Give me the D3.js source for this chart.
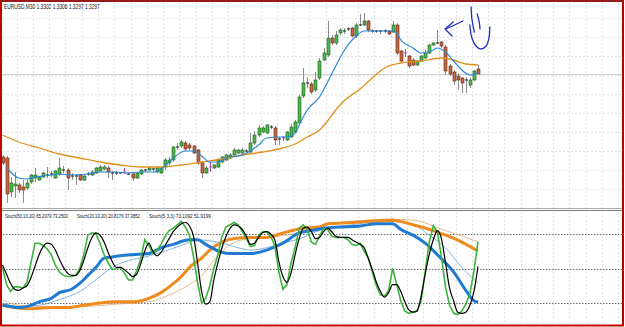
<!DOCTYPE html>
<html><head><meta charset="utf-8">
<script src="https://cdn.jsdelivr.net/npm/d3@7/dist/d3.min.js"></script>
<style>body{margin:0;background:#fff}svg{display:block}</style>
</head><body><svg id="c" width="625" height="327"></svg>
<script>
// ---------- DATA ----------
const openP=[1.3214,1.3213,1.3179,1.3185,1.3186,1.3184,1.3183,1.3189,1.3193,1.3191,
1.3194,1.3196,1.3197,1.3193,1.3197,1.3201,1.3201,1.3195,1.3195,1.3196,
1.3191,1.3197,1.3196,1.3198,1.3200,1.3202,1.3203,1.3198,1.3198,1.3198,
1.3199,1.3197,1.3197,1.3193,1.3197,1.3201,1.3201,1.3202,1.3199,1.3198,
1.3204,1.3208,1.3211,1.3224,1.3225,1.3228,1.3226,1.3225,1.3221,1.3208,
1.3198,1.3204,1.3203,1.3204,1.3209,1.3211,1.3213,1.3216,1.3218,1.3218,
1.3220,1.3219,1.3228,1.3236,1.3239,1.3238,1.3244,1.3243,1.3232,1.3233,
1.3231,1.3234,1.3239,1.3248,1.3275,1.3288,1.3287,1.3281,1.3293,1.3311,
1.3316,1.3333,1.3328,1.3338,1.3340,1.3342,1.3343,1.3335,1.3346,1.3346,
1.3350,1.3340,1.3340,1.3340,1.3340,1.3340,1.3339,1.3346,1.3320,1.3318,
1.3315,1.3311,1.3306,1.3310,1.3313,1.3318,1.3326,1.3328,1.3329,1.3324,
1.3305,1.3299,1.3295,1.3293,1.3291,1.3286,1.3291,1.3302];
const highP=[1.3216,1.3215,1.3194,1.3199,1.3188,1.3191,1.3191,1.3197,1.3203,1.3195,
1.3199,1.3204,1.3200,1.3201,1.3213,1.3205,1.3203,1.3198,1.3197,1.3197,
1.3196,1.3199,1.3201,1.3204,1.3206,1.3206,1.3205,1.3200,1.3200,1.3199,
1.3203,1.3199,1.3198,1.3199,1.3202,1.3202,1.3204,1.3203,1.3204,1.3204,
1.3213,1.3214,1.3225,1.3228,1.3231,1.3230,1.3228,1.3226,1.3222,1.3209,
1.3205,1.3209,1.3207,1.3213,1.3215,1.3217,1.3218,1.3223,1.3222,1.3223,
1.3222,1.3238,1.3240,1.3246,1.3245,1.3247,1.3246,1.3245,1.3234,1.3235,
1.3240,1.3247,1.3251,1.3276,1.3303,1.3294,1.3289,1.3299,1.3313,1.3323,
1.3350,1.3336,1.3340,1.3343,1.3343,1.3344,1.3344,1.3348,1.3357,1.3358,
1.3351,1.3342,1.3341,1.3341,1.3342,1.3341,1.3350,1.3348,1.3321,1.3322,
1.3316,1.3313,1.3311,1.3316,1.3321,1.3327,1.3329,1.3341,1.3330,1.3326,
1.3307,1.3301,1.3298,1.3294,1.3294,1.3293,1.3301,1.3306];
const lowP=[1.3206,1.3168,1.3174,1.3173,1.3178,1.3168,1.3181,1.3187,1.3189,1.3190,
1.3193,1.3193,1.3194,1.3192,1.3195,1.3198,1.3181,1.3191,1.3186,1.3190,
1.3190,1.3195,1.3195,1.3197,1.3199,1.3201,1.3193,1.3191,1.3196,1.3197,
1.3197,1.3196,1.3190,1.3192,1.3196,1.3199,1.3200,1.3200,1.3198,1.3197,
1.3201,1.3204,1.3209,1.3221,1.3223,1.3220,1.3221,1.3217,1.3206,1.3193,
1.3197,1.3199,1.3202,1.3203,1.3208,1.3210,1.3212,1.3214,1.3217,1.3216,
1.3218,1.3218,1.3226,1.3234,1.3238,1.3237,1.3242,1.3226,1.3226,1.3230,
1.3230,1.3233,1.3238,1.3246,1.3273,1.3283,1.3277,1.3279,1.3291,1.3310,
1.3314,1.3326,1.3326,1.3336,1.3337,1.3340,1.3334,1.3333,1.3345,1.3345,
1.3339,1.3338,1.3338,1.3337,1.3338,1.3336,1.3338,1.3316,1.3308,1.3314,
1.3303,1.3305,1.3305,1.3309,1.3312,1.3317,1.3325,1.3327,1.3323,1.3296,
1.3295,1.3286,1.3281,1.3278,1.3278,1.3283,1.3290,1.3297];
const closeP=[1.3208,1.3177,1.3188,1.3187,1.3181,1.3181,1.3188,1.3196,1.3196,1.3194,
1.3198,1.3196,1.3197,1.3200,1.3203,1.3201,1.3193,1.3195,1.3195,1.3191,
1.3195,1.3197,1.3199,1.3203,1.3204,1.3204,1.3199,1.3198,1.3198,1.3198,
1.3199,1.3197,1.3193,1.3198,1.3201,1.3201,1.3203,1.3202,1.3203,1.3203,
1.3211,1.3211,1.3224,1.3224,1.3229,1.3222,1.3223,1.3218,1.3208,1.3198,
1.3203,1.3204,1.3206,1.3211,1.3214,1.3216,1.3216,1.3221,1.3221,1.3221,
1.3220,1.3228,1.3236,1.3243,1.3243,1.3246,1.3244,1.3231,1.3232,1.3233,
1.3239,1.3244,1.3249,1.3274,1.3288,1.3288,1.3279,1.3291,1.3310,1.3318,
1.3333,1.3328,1.3336,1.3341,1.3340,1.3342,1.3335,1.3346,1.3346,1.3350,
1.3341,1.3340,1.3340,1.3340,1.3340,1.3337,1.3346,1.3318,1.3310,1.3318,
1.3305,1.3306,1.3310,1.3315,1.3318,1.3326,1.3328,1.3328,1.3325,1.3300,
1.3297,1.3290,1.3291,1.3288,1.3291,1.3291,1.3300,1.3297];
const magentaBars=[30,51,69,99];
const bidPrice=1.3297;

// moving averages: [bar index, price]
const maFast=[[1,1.3204],[2,1.3199],[4,1.3193],[6,1.3192],[8,1.3194],[10,1.3195],[12,1.3196],[14,1.3197],[17,1.3196],[21,1.3197],[24,1.3199],[28,1.3199],[31,1.3198],[34,1.3199],[37,1.3199],[39,1.3202],[42,1.3213],[45,1.3220],[47,1.3220],[49,1.3215],[51,1.3209],[53,1.3209],[55,1.3213],[59,1.3216],[63,1.3226],[65,1.3233],[68,1.3234],[70,1.3234],[72,1.3238],[73,1.3246],[75,1.3261],[78,1.3274],[80,1.3289],[82,1.3305],[84,1.3320],[87,1.3335],[89,1.3340],[92,1.3340],[96,1.3340],[97,1.3338],[98,1.3331],[101,1.3323],[103,1.3318],[106,1.3321],[107,1.3323],[109,1.3319],[111,1.3310],[113,1.3301],[115,1.3296],[117,1.3299]];
const maSlow=[[0,1.3236],[4,1.3229],[9,1.3223],[14,1.3217],[19,1.3213],[24,1.3209],[29,1.3206],[34,1.3204],[39,1.3204],[44,1.3206],[49,1.3209],[54,1.3212],[59,1.3216],[64,1.3219],[69,1.3223],[72,1.3227],[75,1.3234],[78,1.3241],[80,1.3250],[82,1.3261],[84,1.3270],[88,1.3282],[91,1.3293],[94,1.3303],[98,1.3308],[103,1.3310],[108,1.3313],[111,1.3311],[114,1.3307],[117,1.3306]];

// Stoch(5,3,3) main (green) and signal (black), one value per bar
const stochFastMain=[51,36,30,34,34,33,38,55,72,72,70,67,62,53,47,44,43,43,44,50,
62,79,81,80,72,62,55,49,50,51,46,40,40,48,58,75,70,63,66,71,
78,83,85,88,91,86,79,60,38,20,24,35,50,62,78,86,88,90,88,82,
76,69,70,79,82,82,78,70,47,32,36,55,68,85,88,84,73,71,78,85,
84,78,77,77,77,75,71,70,72,65,59,47,35,27,26,31,50,36,22,13,
11,12,13,22,47,73,87,82,60,34,18,11,10,13,19,28,48,73.1];
const stochFastSignal=[53,45,37,32,31,33,35,42,52,62,69,72,71,66,58,51,46,44,44,48,
57,68,77,81,79,73,64,56,51,51,49,46,43,45,54,65,72,65,61,64,
70,76,82,86,89,90,87,78,55,30,19,21,40,55,68,78,85,88,87,84,
78,71,72,77,81,82,80,75,56,43,38,46,62,76,85,86,82,76,77,82,
85,82,78,77,77,77,75,73,71,68,59,49,38,30,25,29,36,36,30,21,
14,12,13,26,45,62,75,83,76,55,33,22,12,11,12,18,30,51.9];
// Stoch(20,10,20) main (blue thick) and signal (blue thin): [bar, value]
const stochMidMain=[[0,18],[2,17],[4,16],[7,18],[9,21],[12,24],[14,29],[17,32],[19,37],[21,44],[23,51],[25,59],[27,60],[29,61],[32,62],[36,63],[39,68],[42,71],[46,75],[48,75],[50,71],[51,69],[54,64],[56,63],[61,63],[65,66],[69,72],[73,81],[76,83],[79,85],[83,86],[88,87],[92,89],[96,89],[98,84],[101,79],[104,72],[107,62],[111,47],[114,31],[116,22],[117,20.8]];
const stochMidSignal=[[0,20],[4,17],[9,18],[14,23],[19,30],[24,43],[27,51],[31,57],[35,60],[39,64],[44,70],[48,75],[51,74],[53,73],[57,69],[61,66],[65,68],[69,72],[74,77],[78,83],[82,86],[86,88],[90,90],[95,91],[101,88],[105,79],[109,68],[113,51],[117,37.4]];
// Stoch(50,10,20) main (orange thick) and signal (orange thin)
const stochSlowMain=[[0,18],[3,16],[6,15],[12,16],[16,16],[20,18],[24,20],[28,21],[32,21],[36,24],[39,29],[41,34],[44,43],[46,51],[49,59],[51,66],[54,73],[57,76],[61,77],[65,77],[69,81],[74,85],[78,86],[80,89],[86,90],[90,91],[96,92],[101,88],[106,83],[109,79],[113,73],[117,65.2]];
const stochSlowSignal=[[0,23],[4,18],[12,17],[20,17],[28,19],[36,21],[41,27],[46,36],[49,44],[52,57],[55,68],[59,75],[65,77],[70,79],[75,83],[79,88],[83,90],[90,92],[95,93],[101,92],[109,83],[117,73.3]];
const stochLevels=[20,50,80];

const priceHeader="EURUSD,M30  1.3302 1.3306 1.3297 1.3297";
const stochLabels=["Stoch(50,10,20) 65.2079 73.2503","Stoch(20,10,20) 20.8176 37.3852","Stoch(5,3,3) 73.1092 51.9199"];

// hand-drawn annotation strokes: [bar, price]
const annotArrowShaft=[[113.3,1.3350],[109.1,1.3342]];
const annotArrowHead=[[110.9,1.3349],[108.9,1.3342],[110.6,1.3335]];
const annotStroke1=[[115.3,1.3364],[115.5,1.3352],[116.1,1.3339]];
const annotStroke2=[[116.8,1.3357],[117.3,1.3349],[117.5,1.3342]];
const annotU=[[115.0,1.3346],[115.5,1.3333],[116.5,1.3325],[117.7,1.3322],[119.0,1.3325],[119.7,1.3333],[119.9,1.3344]];

// ---------- DRAW ----------
const svg=d3.select("#c");
const W=625,H=327;
const x=d3.scaleLinear().domain([0,117]).range([2.5,478]);
const y=d3.scaleLinear().domain([1.3163,1.3369]).range([208,2]);
const ys=d3.scaleLinear().domain([0,100]).range([326,211]);

svg.append("rect").attr("width",W).attr("height",H).attr("fill","#fff");
const defs=svg.append("defs");
defs.append("clipPath").attr("id","ct").append("rect").attr("x",2).attr("y",2).attr("width",620).attr("height",206);
defs.append("clipPath").attr("id","cb").append("rect").attr("x",2).attr("y",211).attr("width",620).attr("height",114);

// vertical grid (every 4 bars)
const gridBars=d3.range(-0.5,160,4).filter(b=>x(b)>3&&x(b)<621);
const gv=svg.append("g").attr("stroke","#e3e3e3").attr("stroke-width",1).attr("stroke-dasharray","2,2");
gridBars.forEach(b=>{
  const xx=Math.round(x(b))+0.5;
  gv.append("line").attr("x1",xx).attr("x2",xx).attr("y1",3).attr("y2",208);
  gv.append("line").attr("x1",xx).attr("x2",xx).attr("y1",212).attr("y2",325);
});
// horizontal grid top panel
const gridPrices=d3.range(0,10).map(k=>1.3353-0.0019*k);
gridPrices.forEach(p=>{
  const yy=Math.round(y(p))+0.5;
  gv.append("line").attr("x1",3).attr("x2",622).attr("y1",yy).attr("y2",yy);
});
// bid line
svg.append("line").attr("x1",3).attr("x2",622).attr("y1",Math.round(y(bidPrice))+0.5).attr("y2",Math.round(y(bidPrice))+0.5)
  .attr("stroke","#cfcfcf").attr("stroke-width",1);

// stoch levels
stochLevels.forEach(v=>{
  const yy=Math.round(ys(v))+0.5;
  svg.append("line").attr("x1",3).attr("x2",622).attr("y1",yy).attr("y2",yy)
    .attr("stroke","#6a6a6a").attr("stroke-width",1).attr("stroke-dasharray","1.5,1.5");
});

// candles
const gTop=svg.append("g").attr("clip-path","url(#ct)");
const bars=d3.range(openP.length);
bars.forEach(i=>{
  const cx=Math.round(x(i))+0.5;
  const o=openP[i],c=closeP[i],h=highP[i],l=lowP[i];
  const mag=magentaBars.includes(i);
  gTop.append("line").attr("x1",cx).attr("x2",cx).attr("y1",y(h)).attr("y2",y(l))
    .attr("stroke",mag?"#c03cc0":"#8c8c8c").attr("stroke-width",1);
  const yt=y(Math.max(o,c)),yb=y(Math.min(o,c));
  if(Math.abs(o-c)<0.00005){
    gTop.append("line").attr("x1",cx-1.5).attr("x2",cx+1.5).attr("y1",yt).attr("y2",yt)
      .attr("stroke",mag?"#c03cc0":"#111").attr("stroke-width",1);
  } else {
    const bull=c>o;
    gTop.append("rect").attr("x",cx-1.5).attr("y",yt).attr("width",3).attr("height",Math.max(1,yb-yt))
      .attr("fill",bull?"#4cb84c":"#c4673f").attr("stroke",bull?"#1e5a1e":"#5a2814").attr("stroke-width",0.6);
  }
});

// moving averages
const lineP=d3.line().x(d=>x(d[0])).y(d=>y(d[1])).curve(d3.curveMonotoneX);
gTop.append("path").datum(maSlow).attr("d",lineP).attr("fill","none").attr("stroke","#e0901e").attr("stroke-width",1.3);
gTop.append("path").datum(maFast).attr("d",lineP).attr("fill","none").attr("stroke","#2a88d6").attr("stroke-width",1.2);

// annotations
const annot=svg.append("g").attr("fill","none").attr("stroke","#1f30c8").attr("stroke-width",1.3).attr("stroke-linecap","round").attr("stroke-linejoin","round");
const lineA=d3.line().x(d=>x(d[0])).y(d=>y(d[1])).curve(d3.curveCatmullRom);
const lineAStraight=d3.line().x(d=>x(d[0])).y(d=>y(d[1]));
[annotArrowShaft,annotArrowHead,annotStroke1,annotStroke2,annotU].forEach(a=>{
  annot.append("path").datum(a).attr("d",a===annotArrowHead?lineAStraight:lineA);
});

// stochastic lines
const gBot=svg.append("g").attr("clip-path","url(#cb)");
const lineS=d3.line().x(d=>x(d[0])).y(d=>ys(d[1])).curve(d3.curveMonotoneX);
const lineBar=d3.line().x((d,i)=>x(i)).y(d=>ys(d));
const lineBarSmooth=d3.line().x((d,i)=>x(i)).y(d=>ys(d)).curve(d3.curveMonotoneX);
gBot.append("path").datum(stochSlowSignal).attr("d",lineS).attr("fill","none").attr("stroke","#e3b27a").attr("stroke-width",0.9);
gBot.append("path").datum(stochMidSignal).attr("d",lineS).attr("fill","none").attr("stroke","#74a9d8").attr("stroke-width",0.9);
gBot.append("path").datum(stochSlowMain).attr("d",lineS).attr("fill","none").attr("stroke","#ef8a1e").attr("stroke-width",3);
gBot.append("path").datum(stochMidMain).attr("d",lineS).attr("fill","none").attr("stroke","#1f7ad4").attr("stroke-width",3);
gBot.append("path").datum(stochFastMain).attr("d",lineBar).attr("fill","none").attr("stroke","#3cb43c").attr("stroke-width",1.6);
gBot.append("path").datum(stochFastSignal).attr("d",lineBarSmooth).attr("fill","none").attr("stroke","#000").attr("stroke-width",1.2);

// panel separator
svg.append("line").attr("x1",0).attr("x2",623).attr("y1",208.5).attr("y2",208.5).attr("stroke","#a8a8a8").attr("stroke-width",1);
svg.append("line").attr("x1",0).attr("x2",623).attr("y1",210.5).attr("y2",210.5).attr("stroke","#7c7c7c").attr("stroke-width",1.2);

// texts: horizontally scaled so each fits its measured width
function fitText(str,x0,yb,targetW,fs){
  const g=svg.append("g");
  const t=g.append("text").attr("x",0).attr("y",0).attr("font-family","Liberation Sans, Arial, sans-serif")
    .attr("font-size",fs).attr("fill","#111").text(str);
  const w=t.node().getComputedTextLength();
  g.attr("transform",`translate(${x0},${yb}) scale(${targetW/w},1)`);
}
fitText(priceHeader,4,8.5,96,6.5);
const labX=[5,77,149],labL=[63,63,62];
stochLabels.forEach((t,k)=>fitText(t,labX[k],217.5,labL[k],6));

// frame
svg.append("rect").attr("x",1).attr("y",1).attr("width",622).attr("height",324.5).attr("fill","none").attr("stroke","#c00000").attr("stroke-width",2);
svg.append("line").attr("x1",0).attr("x2",624).attr("y1",1).attr("y2",1).attr("stroke","#8a2020").attr("stroke-width",1.5);
</script></body></html>
